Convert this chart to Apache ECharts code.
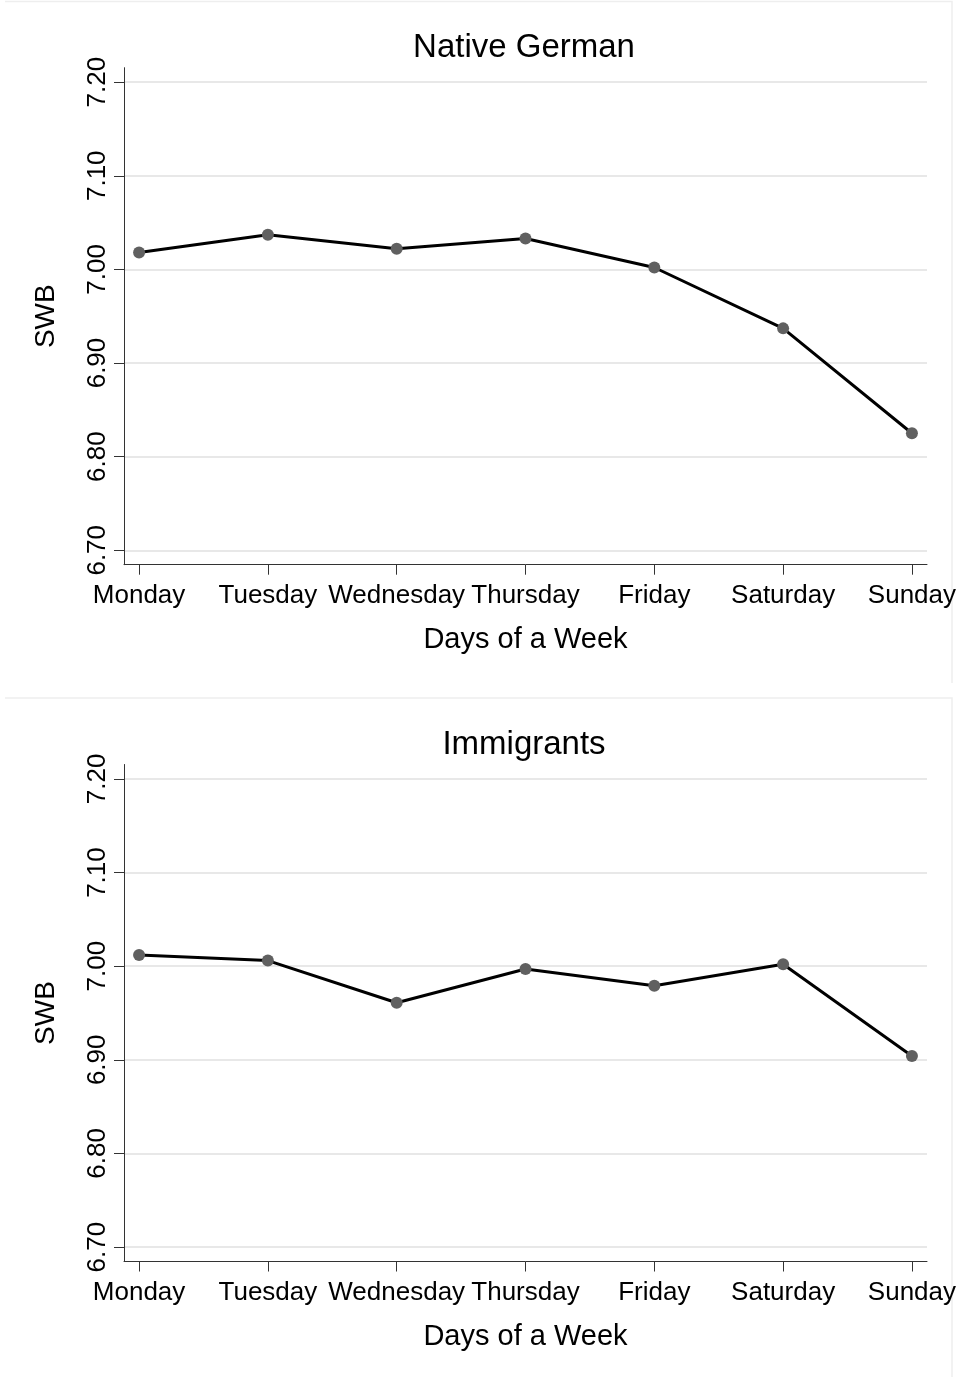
<!DOCTYPE html>
<html>
<head>
<meta charset="utf-8">
<script src="https://cdn.jsdelivr.net/npm/echarts@6/dist/echarts.min.js"></script>
<style>
html,body{margin:0;padding:0;background:#fff;}
#chart{width:960px;height:1377px;}
</style>
</head>
<body>
<div id="chart"></div>
<script>
var days = ['Monday','Tuesday','Wednesday','Thursday','Friday','Saturday','Sunday'];
var nativeGerman = [7.018, 7.037, 7.022, 7.033, 7.002, 6.937, 6.825];
var immigrants = [7.012, 7.006, 6.961, 6.997, 6.979, 7.002, 6.904];
var yTicks = [6.70, 6.80, 6.90, 7.00, 7.10, 7.20];
var titles = ['Native German', 'Immigrants'];

var FONT = '"Liberation Sans", Arial, sans-serif';
var dayIdx = days.map(function(d, i){ return i; });

function pairs(vals){ return vals.map(function(v, i){ return [i, v]; }); }

function xAxisCfg(gi){
  return {
    type: 'value', gridIndex: gi, min: -0.117, max: 6.117,
    axisLine: {show: true, onZero: false, lineStyle: {color: '#333', width: 1}},
    axisTick: {show: true, length: 10, lineStyle: {color: '#333'}, customValues: dayIdx},
    axisLabel: {show: true, customValues: dayIdx, margin: 18, color: '#000',
      fontFamily: FONT, fontSize: 26,
      formatter: function(v){ return days[Math.round(v)]; }},
    splitLine: {show: false},
    name: 'Days of a Week', nameLocation: 'middle', nameGap: 61,
    nameTextStyle: {color: '#000', fontFamily: FONT, fontSize: 29}
  };
}
function yAxisCfg(gi){
  return {
    type: 'value', gridIndex: gi, min: 6.6846, max: 7.2154,
    axisLine: {show: true, onZero: false, lineStyle: {color: '#333', width: 1}},
    axisTick: {show: true, length: 10, lineStyle: {color: '#333'}, customValues: yTicks},
    axisLabel: {show: true, customValues: yTicks, rotate: 90, margin: 13, color: '#000',
      fontFamily: FONT, fontSize: 26,
      formatter: function(v){ return v.toFixed(2); }},
    splitLine: {show: true, lineStyle: {color: '#e8e8e8', width: 2}},
    name: 'SWB', nameLocation: 'middle', nameGap: 64,
    nameTextStyle: {color: '#000', fontFamily: FONT, fontSize: 28}
  };
}
function seriesCfg(gi, vals){
  return {
    type: 'line', xAxisIndex: gi, yAxisIndex: gi, data: pairs(vals),
    symbol: 'circle', symbolSize: 12, showSymbol: true,
    lineStyle: {color: '#000', width: 3},
    itemStyle: {color: '#606060'},
    z: 5, silent: true, animation: false
  };
}

var chart = echarts.init(document.getElementById('chart'), null, {renderer: 'canvas'});
chart.setOption({
  backgroundColor: '#fff',
  animation: false,
  title: [
    {text: titles[0], left: 519, top: 26, textAlign: 'center',
      textStyle: {color: '#000', fontFamily: FONT, fontSize: 33, fontWeight: 'normal'}},
    {text: titles[1], left: 519, top: 723, textAlign: 'center',
      textStyle: {color: '#000', fontFamily: FONT, fontSize: 33, fontWeight: 'normal'}}
  ],
  grid: [
    {left: 124, width: 803, top: 67.7, height: 497},
    {left: 124, width: 803, top: 764.5, height: 497}
  ],
  xAxis: [xAxisCfg(0), xAxisCfg(1)],
  yAxis: [yAxisCfg(0), yAxisCfg(1)],
  series: [seriesCfg(0, nativeGerman), seriesCfg(1, immigrants)],
  graphic: [
    {type: 'polyline', shape: {points: [[5, 1.5], [952, 1.5], [952, 683]]}, style: {stroke: '#eeeeee', fill: null, lineWidth: 1.5}, silent: true},
    {type: 'polyline', shape: {points: [[5, 698], [952, 698], [952, 1377]]}, style: {stroke: '#eeeeee', fill: null, lineWidth: 1.5}, silent: true}
  ]
});
</script>
</body>
</html>
